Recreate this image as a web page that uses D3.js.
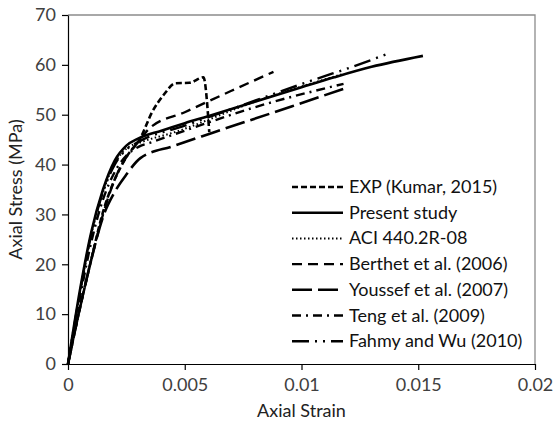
<!DOCTYPE html>
<html><head><meta charset="utf-8">
<script src="https://cdn.jsdelivr.net/npm/d3@7/dist/d3.min.js"></script>
<style>body{margin:0;background:#fff}svg{display:block}text{font-family:Lato,"Open Sans",sans-serif}</style>
</head><body><div id="chart"></div>
<script>
// ---- data (strain, stress MPa) ----
const seriesNames = ["EXP (Kumar, 2015)","Present study","ACI 440.2R-08","Berthet et al. (2006)","Youssef et al. (2007)","Teng et al. (2009)","Fahmy and Wu (2010)"];
const expData = [[0,0],[0.0005,11],[0.001,21],[0.0015,30.5],[0.002,37],[0.0025,41.5],[0.0031,45.3],[0.0036,50.5],[0.0041,54],[0.0046,56.3],[0.0052,56.4],[0.0058,57.5],[0.00605,46.5]];
const presentData = [[0,0],[0.0005,14.5],[0.001,26.5],[0.0015,35],[0.002,40.8],[0.0025,43.8],[0.003,45.2],[0.004,46.8],[0.005,48.3],[0.006,49.7],[0.008,52.6],[0.01,55.5],[0.0114,57.5],[0.013,59.6],[0.0152,61.8]];
const aciData = [[0,0],[0.0005,14],[0.001,26],[0.0015,34.5],[0.002,40.2],[0.0025,43.2],[0.0032,44.6],[0.0045,46.4],[0.008,52.6],[0.0118,58.2]];
const berthetData = [[0,0],[0.0005,11],[0.001,21],[0.0015,30],[0.002,37],[0.0025,41.5],[0.003,44.5],[0.0035,47.3],[0.005,50.5],[0.007,54.8],[0.0088,58.6]];
const youssefData = [[0,0],[0.0005,11],[0.001,21],[0.0015,29.5],[0.002,34.5],[0.0025,38],[0.0031,41.3],[0.0045,43.7],[0.0062,46.4],[0.0096,51.7],[0.0118,55.2]];
const tengData = [[0,0],[0.0005,13],[0.001,24.5],[0.0015,33],[0.002,38.5],[0.0025,41.8],[0.003,43.5],[0.0036,44.5],[0.005,46.8],[0.008,51.5],[0.0118,56.2]];
const fahmyData = [[0,0],[0.0005,14],[0.001,26],[0.0015,34.5],[0.002,40],[0.0025,43],[0.003,44.5],[0.005,47.8],[0.008,52.8],[0.0109,57.6],[0.0118,59],[0.0138,62.4]];
const xTicks = [0,0.005,0.01,0.015,0.02];
const xTickLabels = ["0","0.005","0.01","0.015","0.02"];
const yTicks = [0,10,20,30,40,50,60,70];

const allData = [expData,presentData,aciData,berthetData,youssefData,tengData,fahmyData];
const dashes = ["6,3","none","1.5,2.5","10,6","20,6","9,5,2,5","17,6,2,6,2,6"];
const widths = [2.6,2.6,2,2.4,2.6,2.4,2.4];

const W=555,H=425;
const svg=d3.select("#chart").append("svg").attr("width",W).attr("height",H);
const x=d3.scaleLinear().domain([0,0.02]).range([68,535]);
const y=d3.scaleLinear().domain([0,70]).range([364,15]);

// frame (top/right)
svg.append("path").attr("d",`M${x(0)},${y(70)}H${x(0.02)}V${y(0)}`).attr("fill","none").attr("stroke","#8c8c8c").attr("stroke-width",1.3);

const gx=svg.append("g").attr("transform",`translate(0,${y(0)})`)
  .call(d3.axisBottom(x).tickValues(xTicks).tickFormat((d,i)=>xTickLabels[i]).tickSizeInner(6).tickSizeOuter(0).tickPadding(8));
const gy=svg.append("g").attr("transform",`translate(${x(0)},0)`)
  .call(d3.axisLeft(y).tickValues(yTicks).tickSizeInner(6).tickSizeOuter(0).tickPadding(6));
[gx,gy].forEach(g=>{
  g.selectAll("path,line").attr("stroke","#000").attr("stroke-width",1.2);
  g.selectAll("text").attr("fill","#404040").style("font-size","18px").style("font-family","Lato, sans-serif");
});

const line=d3.line().x(d=>x(d[0])).y(d=>y(d[1])).curve(d3.curveMonotoneX);
allData.forEach((dat,i)=>{
  svg.append("path").datum(dat).attr("d",line).attr("fill","none").attr("stroke","#000")
    .attr("stroke-width",widths[i]).attr("stroke-dasharray",dashes[i]).attr("stroke-linejoin","round");
});

// legend
const lg=svg.append("g");
seriesNames.forEach((n,i)=>{
  const yy=187+i*25.7;
  lg.append("line").attr("x1",292).attr("x2",343).attr("y1",yy).attr("y2",yy)
    .attr("stroke","#000").attr("stroke-width",widths[i]).attr("stroke-dasharray",dashes[i]);
  lg.append("text").attr("x",349).attr("y",yy+6).text(n).style("font-size","18px").attr("fill","#111");
});

svg.append("text").attr("x",(x(0)+x(0.02))/2).attr("y",417).attr("text-anchor","middle").style("font-size","18px").attr("fill","#222").text("Axial Strain");
svg.append("text").attr("transform",`translate(22,${(y(0)+y(70))/2}) rotate(-90)`).attr("text-anchor","middle").style("font-size","18px").attr("fill","#222").text("Axial Stress (MPa)");
</script></body></html>
